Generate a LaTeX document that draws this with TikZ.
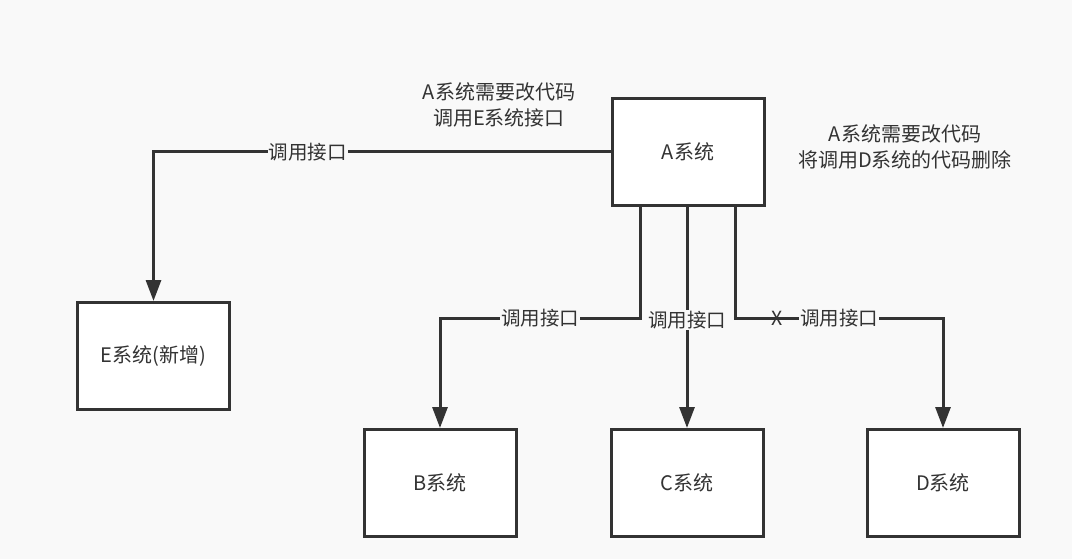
\documentclass[tikz,border=0pt]{standalone}
\usepackage{fontspec}
\setmainfont{Noto Sans CJK SC}
\usetikzlibrary{arrows.meta}
\definecolor{bg}{HTML}{F9F9F9}
\definecolor{ink}{HTML}{333333}
\begin{document}
\begin{tikzpicture}[x=1pt,y=-1pt,
  sysbox/.style={draw=ink,line width=3pt,fill=white,minimum width=152pt,minimum height=107pt,inner sep=0pt,font=\fontsize{20}{26}\selectfont,text=ink},
  conn/.style={draw=ink,line width=3pt,-{Triangle[length=21pt,width=15pt]}},
  lbl/.style={fill=bg,inner sep=1pt,font=\fontsize{19.5}{24}\selectfont,text=ink},
  note/.style={align=center,font=\fontsize{20}{25.5}\selectfont,text=ink}]
\fill[bg] (0,0) rectangle (1072,559);
\useasboundingbox (0,0) rectangle (1072,559);
\node[sysbox] (A) at (688,152) {A系统};
\node[sysbox] (E) at (153.5,356) {E系统(新增)};
\node[sysbox] (B) at (440,483) {B系统};
\node[sysbox] (C) at (687,483) {C系统};
\node[sysbox] (D) at (943,483) {D系统};
\node[note] (n1) at (499,105) {A系统需要改代码\\调用E系统接口};
\node[note] (n2) at (905,147) {A系统需要改代码\\将调用D系统的代码删除};
\coordinate (ab) at (640,318);
\coordinate (ad) at (735,318);
\draw[conn] (A.west) -| node[lbl,pos=0.331] (le) {调用接口} (E.north);
\draw[conn] (A.south -| ab) -- (ab) -- node[lbl] (lb) {调用接口} (ab -| B.north) -- (B.north);
\draw[conn] (A.south -| C.north) -- node[lbl,pos=0.51] (lc) {调用接口} (C.north);
\draw[conn] (A.south -| ad) -- (ad) -- node[pos=0.2,inner sep=0pt,font=\fontsize{19.5}{24}\selectfont,text=ink] (x) {X} node[lbl,pos=0.5] (ld) {调用接口} (ad -| D.north) -- (D.north);
\end{tikzpicture}
\end{document}
